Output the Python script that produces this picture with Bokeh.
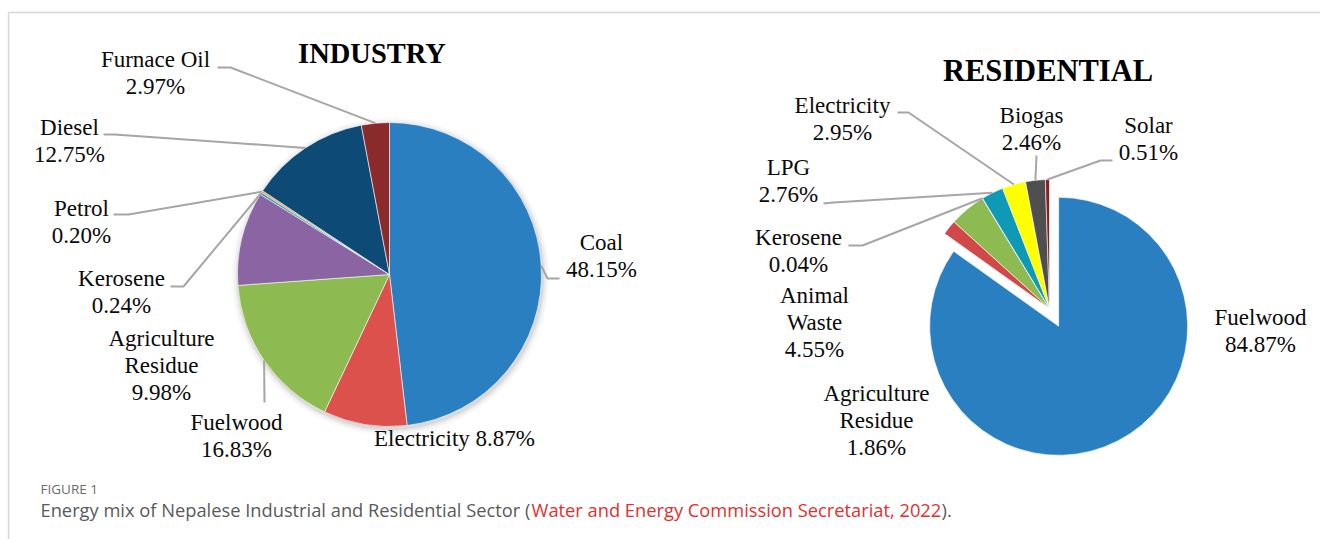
import math
from bokeh.plotting import figure
from bokeh.models import Range1d
from bokeh.embed import file_html
from bokeh.resources import INLINE
from bokeh.core.properties import value

# ---------------- data ----------------
ind_categories = ["Coal", "Electricity", "Fuelwood", "Agriculture Residue",
                  "Kerosene", "Petrol", "Diesel", "Furnace Oil"]
ind_values = [48.15, 8.87, 16.83, 9.98, 0.24, 0.20, 12.75, 2.97]

res_categories = ["Fuelwood", "Agriculture Residue", "Animal Waste", "Kerosene",
                  "LPG", "Electricity", "Biogas", "Solar"]
res_values = [84.87, 1.86, 4.55, 0.04, 2.76, 2.95, 2.46, 0.51]

titles = ["INDUSTRY", "RESIDENTIAL"]
caption_label = "FIGURE 1"
caption_text = "Energy mix of Nepalese Industrial and Residential Sector ("
caption_cite = "Water and Energy Commission Secretariat, 2022"
caption_end = ")."

# ---------------- styles / layout ----------------
ind_colors = ["#2A7FC1", "#DC514B", "#8DBA51", "#8A64A3",
              "#1E9BBE", "#F7923A", "#0D4B76", "#8A2A2A"]
res_colors = ["#2A7FC1", "#D24848", "#8DBA51", "#8A64A3",
              "#0E9AB7", "#FFFF00", "#4F4F4F", "#8B1F1F"]

W, H = 1320, 539
SERIF = "Liberation Serif"
SANS = "Open Sans"
LABEL_SIZE = 23
LINE_STEP = 27.3
LEADER_COLOR = "#A6A6A6"
SERIF_SHIFT = 0.36   # baseline correction (em) for the renderer
SANS_SHIFT = 0.45


def sy(y):
    return H - y


p = figure(width=W, height=H, x_range=Range1d(0, W), y_range=Range1d(0, H),
           output_backend="svg", toolbar_location=None, min_border=0,
           x_axis_type=None, y_axis_type=None)
p.grid.visible = False
p.outline_line_color = None
p.background_fill_color = "white"
p.border_fill_color = "white"

# frame lines of the figure panel
p.line(x=[8, W], y=[sy(12), sy(12)], line_color="#D6D6D6", line_width=1.5)
p.line(x=[8, 8], y=[sy(12), 0], line_color="#D6D6D6", line_width=1.5)


def slice_angles(values):
    total = sum(values)
    cum = 0.0
    out = []
    for v in values:
        a0 = cum / total
        cum += v
        a1 = cum / total
        out.append((a0, a1))
    return out


def draw_pie(cx, cy, r, values, colors, explode=None, shadow=False):
    explode = explode or {}
    angs = slice_angles(values)
    if shadow:
        for dr, a in [(7, 0.02), (5, 0.03), (3, 0.045), (1.5, 0.06)]:
            p.circle(x=[cx + 1], y=[sy(cy + 2)], radius=r + dr,
                     fill_color="#000000", fill_alpha=a, line_color=None)
    mids = []
    for i, ((a0, a1), c) in enumerate(zip(angs, colors)):
        mid = (a0 + a1) / 2 * 2 * math.pi
        d = explode.get(i, 0)
        ox = cx + d * math.sin(mid)
        oy = cy - d * math.cos(mid)
        p.wedge(x=[ox], y=[sy(oy)], radius=r,
                start_angle=math.pi / 2 - 2 * math.pi * a0,
                end_angle=math.pi / 2 - 2 * math.pi * a1,
                direction="clock", fill_color=c, line_color="white",
                line_width=0.6)
        mids.append((cx + r * math.sin(mid), cy - r * math.cos(mid)))
    return mids


def label_lines(cat, val, mode):
    pct = f"{val:.2f}%"
    if mode == "one":
        return [f"{cat} {pct}"]
    if mode == "wrap":
        return cat.split(" ") + [pct]
    return [cat, pct]


def put_text(x, baseline, txt, font, size, shift, color, align="center",
             style="normal"):
    p.text(x=[x], y=[sy(baseline - shift * size)], text=[txt],
           text_font=value(font), text_font_size=f"{size}px",
           text_font_style=style, text_align=align,
           text_baseline="alphabetic", text_color=color)


def draw_labels(categories, values, layout):
    for cat, val in zip(categories, values):
        cx, b0, mode = layout[cat]
        lines = label_lines(cat, val, mode)
        for i, ln in enumerate(lines):
            put_text(cx, b0 + i * LINE_STEP, ln, SERIF, LABEL_SIZE,
                     SERIF_SHIFT, "#0A0A0A")


def draw_leaders(categories, mids, leaders):
    for i, cat in enumerate(categories):
        if cat not in leaders:
            continue
        pts = leaders[cat] + [mids[i]]
        p.line(x=[q[0] for q in pts], y=[sy(q[1]) for q in pts],
               line_color=LEADER_COLOR, line_width=2)


# ---------------- INDUSTRY ----------------
ind_c = (389, 274)
ind_r = 152
ind_mids = draw_pie(ind_c[0], ind_c[1], ind_r, ind_values, ind_colors, shadow=True)

ind_leaders = {
    "Furnace Oil": [(217, 67), (230, 67)],
    "Diesel": [(103, 134), (114, 134)],
    "Petrol": [(113, 214), (128, 214)],
    "Kerosene": [(170, 286), (183, 286)],
    "Fuelwood": [(264, 402)],
    "Coal": [(559, 278), (547, 278)],
}
draw_leaders(ind_categories, ind_mids, ind_leaders)

ind_layout = {
    "Coal": (601, 250, "two"),
    "Electricity": (454, 446, "one"),
    "Fuelwood": (236, 430, "two"),
    "Agriculture Residue": (161, 346, "wrap"),
    "Kerosene": (121, 286, "two"),
    "Petrol": (81, 216, "two"),
    "Diesel": (69, 135, "two"),
    "Furnace Oil": (155, 67, "two"),
}
draw_labels(ind_categories, ind_values, ind_layout)

put_text(371.5, 63.5, titles[0], SERIF, 28.5, SERIF_SHIFT, "#000000",
         style="bold")

# ---------------- RESIDENTIAL ----------------
res_c = (1049, 308)
res_r = 129
res_mids = draw_pie(res_c[0], res_c[1], res_r, res_values, res_colors,
                    explode={0: 20})

res_leaders = {
    "Electricity": [(897, 112), (908, 112)],
    "Biogas": [(1036, 155)],
    "Solar": [(1112, 160), (1100, 160)],
    "LPG": [(823, 203), (833, 202)],
    "Kerosene": [(848, 245), (862, 245)],
}
draw_leaders(res_categories, res_mids, res_leaders)

res_layout = {
    "Fuelwood": (1260, 325, "two"),
    "Agriculture Residue": (876, 401, "wrap"),
    "Animal Waste": (814, 303, "wrap"),
    "Kerosene": (798, 245, "two"),
    "LPG": (788, 175, "two"),
    "Electricity": (842, 113, "two"),
    "Biogas": (1031, 123, "two"),
    "Solar": (1148, 133, "two"),
}
draw_labels(res_categories, res_values, res_layout)

put_text(1047.5, 81.5, titles[1], SERIF, 30.5, SERIF_SHIFT, "#000000",
         style="bold")

# ---------------- caption ----------------
CAP = 18.3
put_text(40, 495, caption_label, SANS, 13.5, SANS_SHIFT, "#6B6B6B", align="left")
put_text(40, 517, caption_text, SANS, CAP, SANS_SHIFT, "#5A5A5A", align="left")
put_text(531, 517, caption_cite, SANS, CAP, SANS_SHIFT, "#E0312E", align="left")
put_text(941, 517, caption_end, SANS, CAP, SANS_SHIFT, "#5A5A5A", align="left")

open("out.html", "w").write(file_html(p, INLINE))
